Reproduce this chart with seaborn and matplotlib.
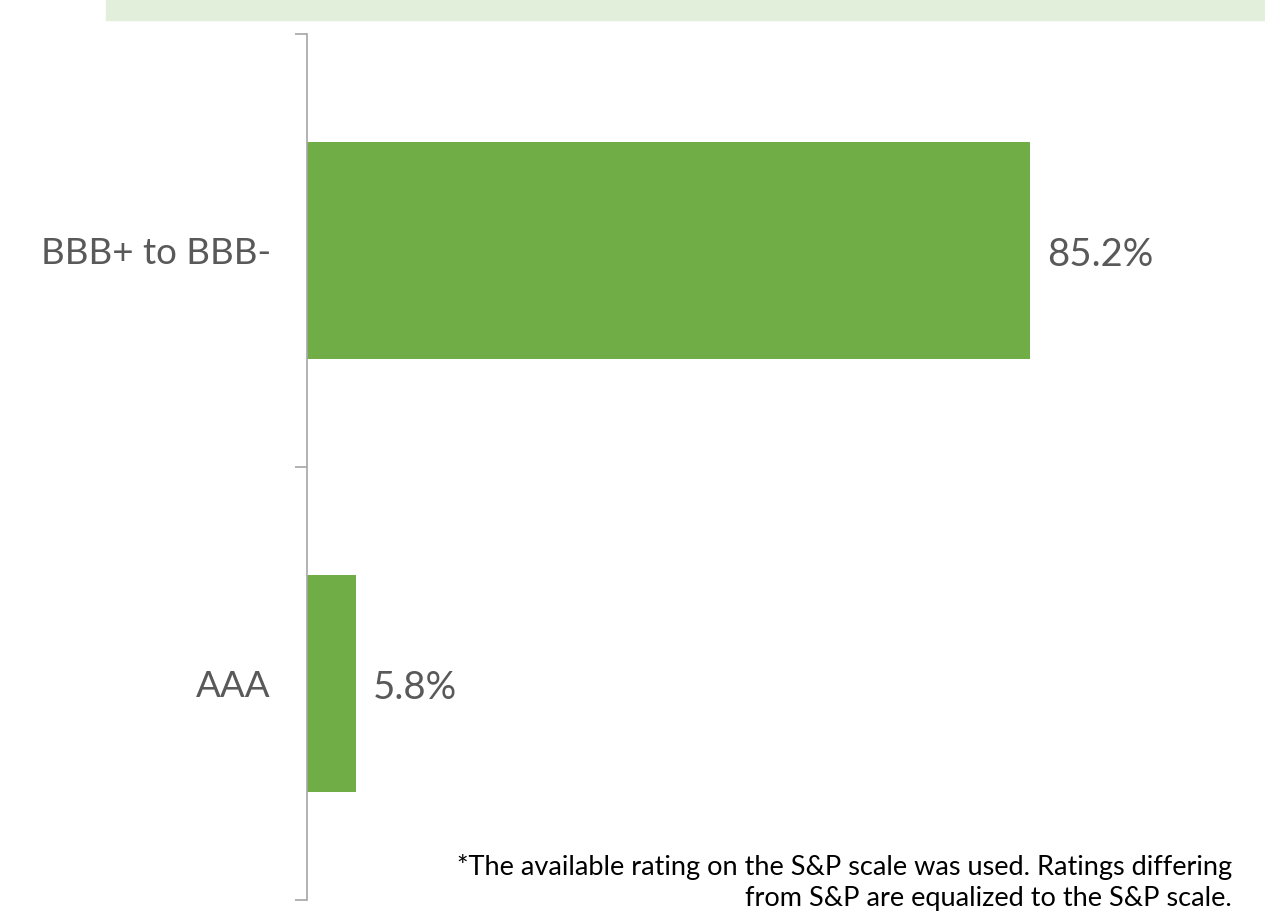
import pandas as pd
import numpy as np
import matplotlib.pyplot as plt
import seaborn as sns
from matplotlib.patches import Rectangle
from matplotlib.ticker import FixedLocator

sns.set_style('white')
plt.rcParams['font.family'] = ['Lato', 'DejaVu Sans']

ratings = ['BBB+ to BBB-', 'AAA']
shares = [85.2, 5.8]
value_labels = ['85.2%', '5.8%']
footnote = ('*The available rating on the S&P scale was used. Ratings differing\n'
            'from S&P are equalized to the S&P scale.')

green = '#70AD47'
grey_text = '#595959'
spine_col = '#A6A6A6'

df = pd.DataFrame({'rating': ratings, 'share': shares})

fig = plt.figure(figsize=(12.65, 9.22), dpi=100)
# light green title band, cut at the top edge
fig.patches.append(Rectangle((106 / 1265, 1 - 20 / 922), 1, 20 / 922,
                             transform=fig.transFigure, color='#E2EFDA', zorder=0))

ax = fig.add_axes([307 / 1265, 22 / 922, 849 / 1265, 866 / 922])
sns.barplot(data=df, x='share', y='rating', orient='h', color=green,
            width=0.5, saturation=1, linewidth=0, ax=ax)

ax.set_xlim(0, 100)
ax.set_ylim(1.5, -0.5)
for s in ['top', 'right', 'bottom']:
    ax.spines[s].set_visible(False)
ax.spines['left'].set_color(spine_col)
ax.spines['left'].set_linewidth(1.2)
ax.set_xticks([])
ax.set_xlabel('')
ax.set_ylabel('')

ax.yaxis.set_minor_locator(FixedLocator([-0.5, 0.5, 1.5]))
ax.tick_params(axis='y', which='major', length=0, pad=26, labelsize=26.5, labelcolor=grey_text)
ax.tick_params(axis='y', which='minor', left=True, length=9, width=1.2, color=spine_col)

for p, lab in zip(ax.patches, value_labels):
    ax.text(p.get_width() + 2, p.get_y() + p.get_height() / 2 + 0.01, lab,
            va='center', ha='left', fontsize=27.5, color=grey_text)

fig.text(1232 / 1265, 1 - 906 / 922, footnote, ha='right', va='baseline',
         fontsize=19.5, color='#000000', linespacing=1.3)

fig.savefig('out.png', dpi=100)
